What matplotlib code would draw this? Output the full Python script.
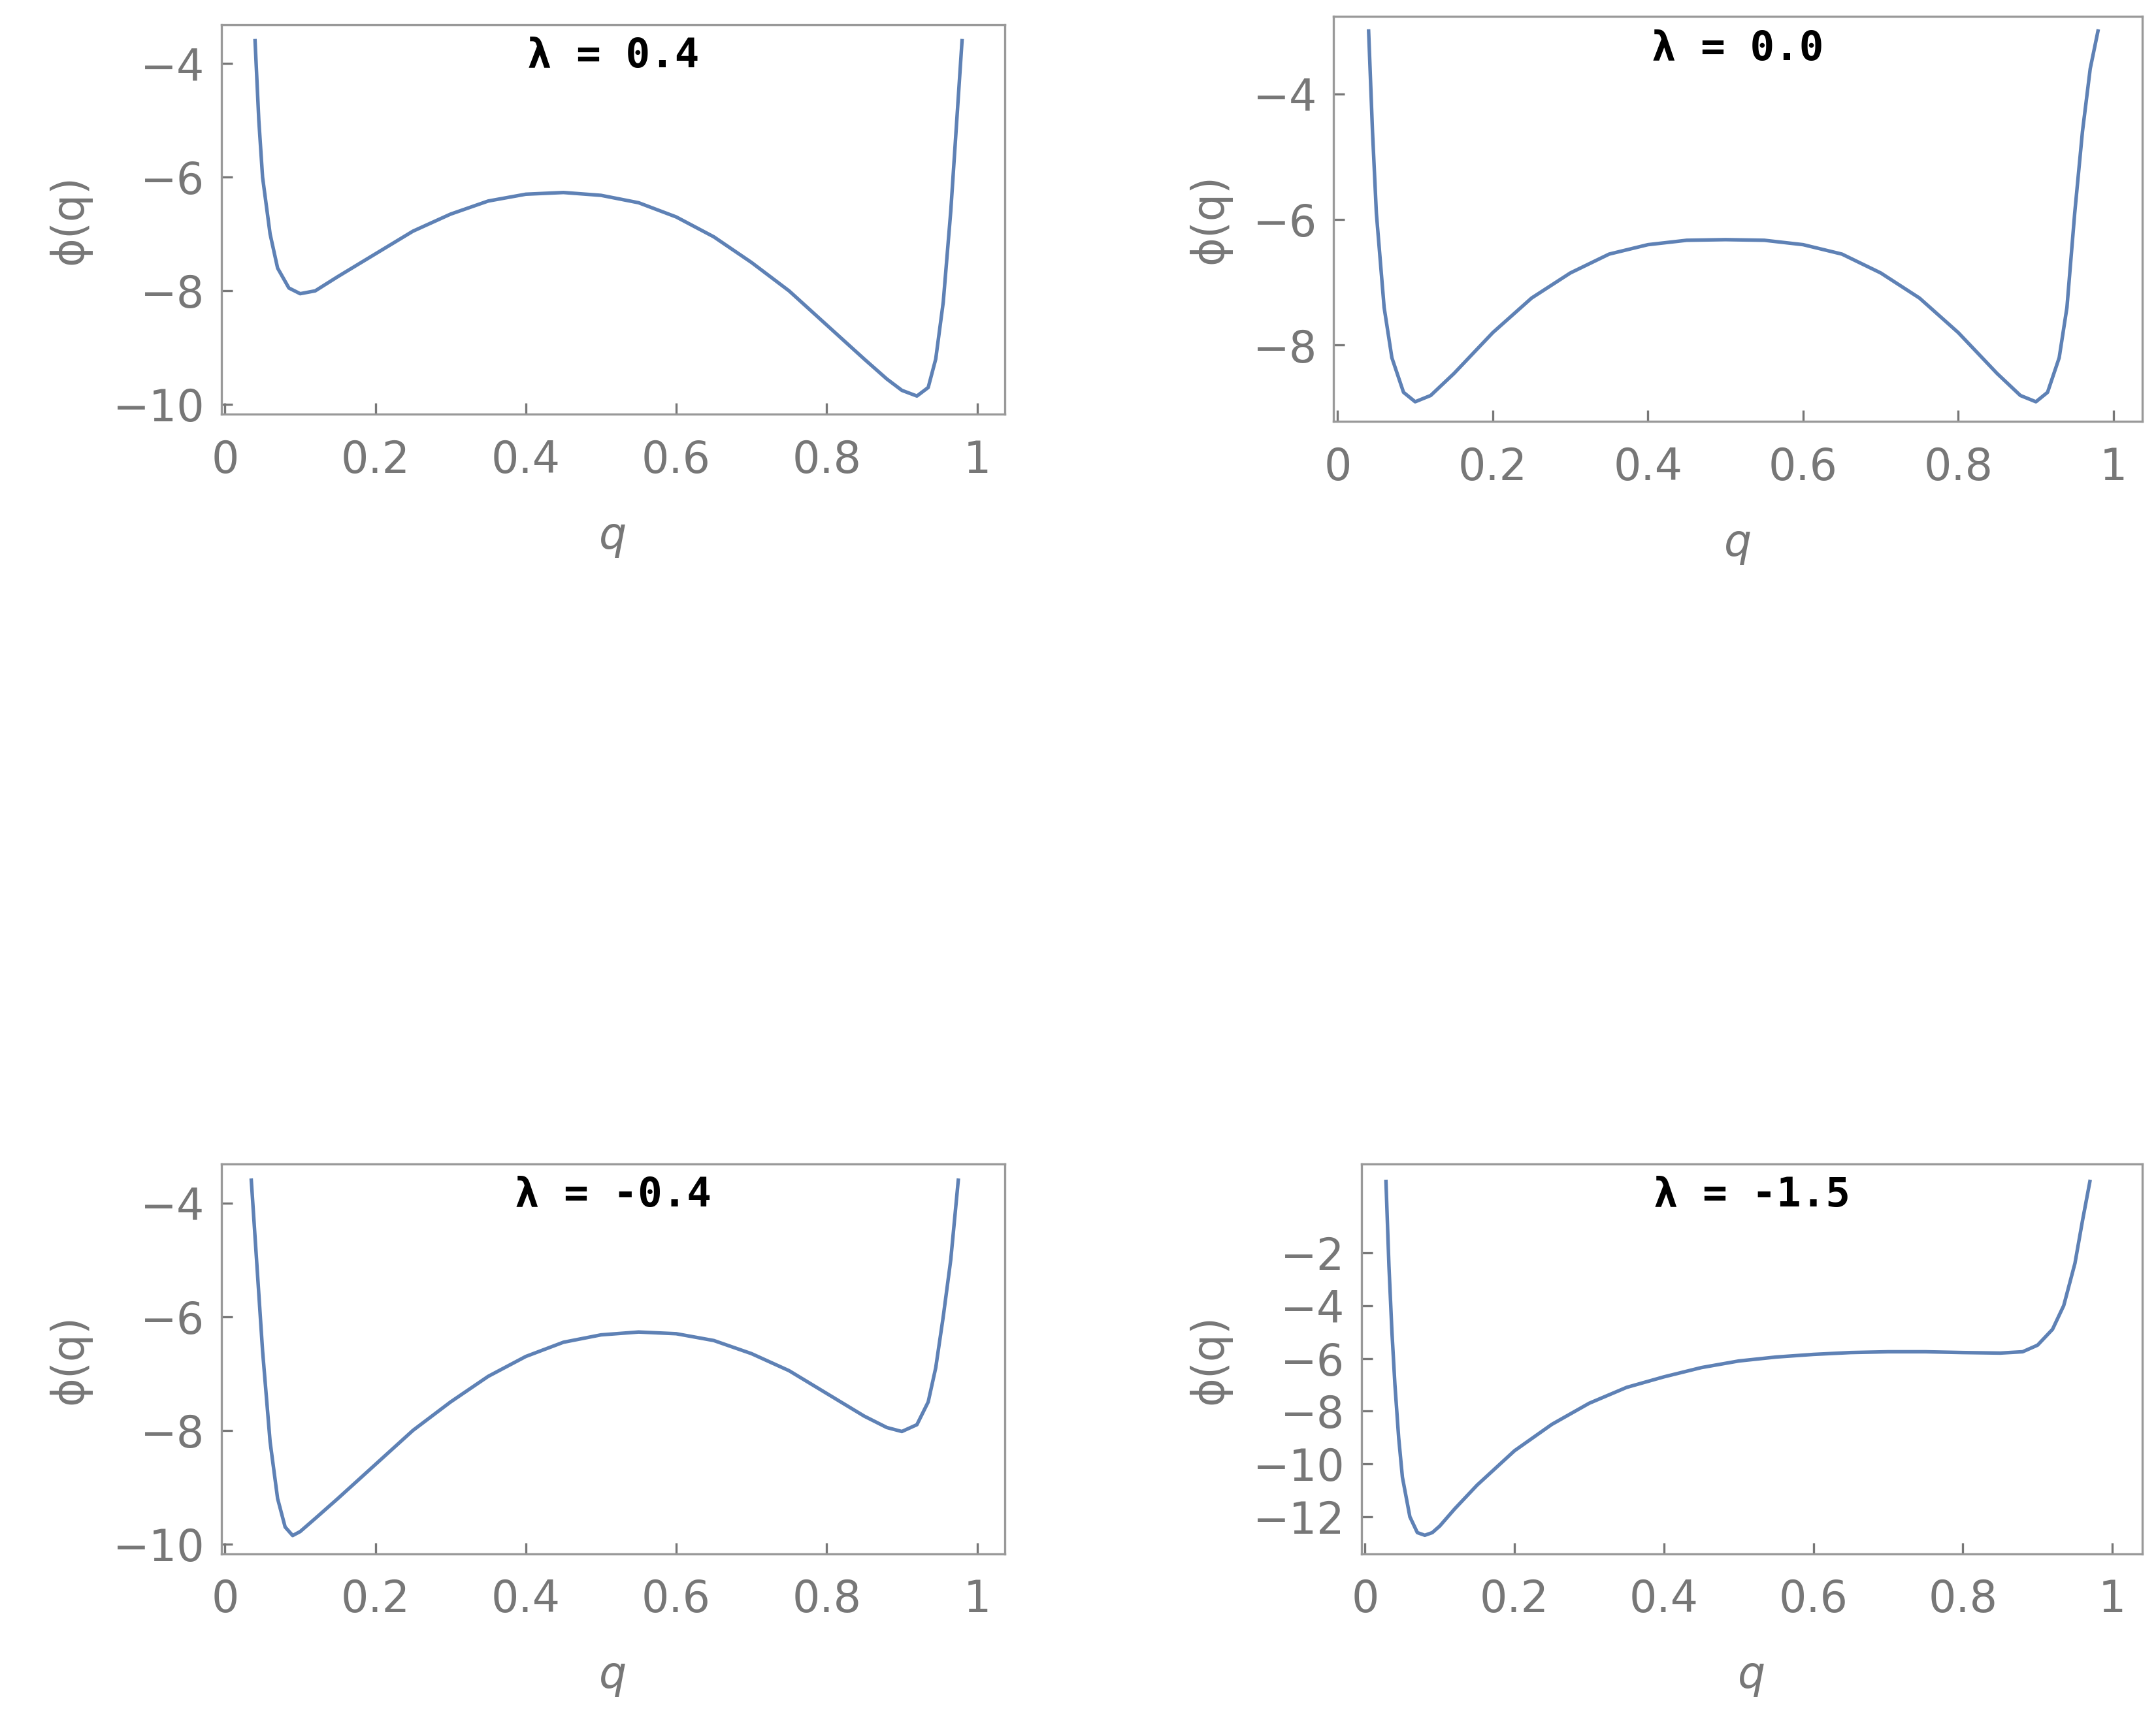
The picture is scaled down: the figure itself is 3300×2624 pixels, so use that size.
import matplotlib
matplotlib.use("Agg")
import matplotlib.pyplot as plt

# values
q_a = [0.040, 0.045, 0.050, 0.060, 0.070, 0.085, 0.100, 0.120, 0.150, 0.200, 0.250, 0.300,
       0.350, 0.400, 0.450, 0.500, 0.550, 0.600, 0.650, 0.700, 0.750, 0.800, 0.850, 0.880,
       0.900, 0.920, 0.935, 0.945, 0.955, 0.965, 0.975, 0.980]
phi_a = [-3.6, -5.0, -6.0, -7.0, -7.6, -7.95, -8.05, -8.0, -7.75, -7.35, -6.95, -6.65,
         -6.42, -6.3, -6.27, -6.32, -6.45, -6.7, -7.05, -7.5, -8.0, -8.6, -9.2, -9.55,
         -9.75, -9.85, -9.7, -9.2, -8.2, -6.6, -4.6, -3.6]

q_b = [0.040, 0.045, 0.050, 0.060, 0.070, 0.085, 0.100, 0.120, 0.150, 0.200, 0.250, 0.300,
       0.350, 0.400, 0.450, 0.500, 0.550, 0.600, 0.650, 0.700, 0.750, 0.800, 0.850, 0.880,
       0.900, 0.915, 0.930, 0.940, 0.950, 0.960, 0.970, 0.980]
phi_b = [-3.0, -4.6, -5.9, -7.4, -8.2, -8.75, -8.9, -8.8, -8.45, -7.8, -7.25, -6.85,
         -6.55, -6.4, -6.33, -6.32, -6.33, -6.4, -6.55, -6.85, -7.25, -7.8, -8.45, -8.8,
         -8.9, -8.75, -8.2, -7.4, -5.9, -4.6, -3.6, -3.0]

q_c = [0.035, 0.040, 0.050, 0.060, 0.070, 0.080, 0.090, 0.100, 0.120, 0.150, 0.200, 0.250,
       0.300, 0.350, 0.400, 0.450, 0.500, 0.550, 0.600, 0.650, 0.700, 0.750, 0.800, 0.850,
       0.880, 0.900, 0.920, 0.935, 0.945, 0.955, 0.965, 0.975]
phi_c = [-3.6, -4.6, -6.6, -8.2, -9.2, -9.7, -9.85, -9.78, -9.55, -9.2, -8.6, -8.0,
         -7.5, -7.05, -6.7, -6.45, -6.32, -6.27, -6.3, -6.42, -6.65, -6.95, -7.35, -7.75,
         -7.95, -8.02, -7.9, -7.5, -6.9, -6.0, -5.0, -3.6]

q_d = [0.028, 0.032, 0.036, 0.040, 0.045, 0.050, 0.060, 0.070, 0.080, 0.090, 0.100, 0.120,
       0.150, 0.200, 0.250, 0.300, 0.350, 0.400, 0.450, 0.500, 0.550, 0.600, 0.650, 0.700,
       0.750, 0.800, 0.850, 0.880, 0.900, 0.920, 0.935, 0.950, 0.960, 0.970]
phi_d = [0.7, -2.5, -5.0, -7.0, -9.0, -10.5, -12.0, -12.6, -12.7, -12.6, -12.35, -11.7,
         -10.8, -9.5, -8.5, -7.7, -7.1, -6.7, -6.35, -6.1, -5.95, -5.85, -5.78, -5.75,
         -5.75, -5.78, -5.8, -5.75, -5.5, -4.9, -4.0, -2.4, -0.8, 0.7]

panels = [
    ("λ = 0.4", q_a, phi_a, [-4, -6, -8, -10], (-3.32, -10.17), [0.1026, 0.7583, 0.3635, 0.2272], (-0.005, 1.037)),
    ("λ = 0.0", q_b, phi_b, [-4, -6, -8], (-2.77, -9.21), [0.6186, 0.7542, 0.3750, 0.2361], (-0.005, 1.037)),
    ("λ = -0.4", q_c, phi_c, [-4, -6, -8, -10], (-3.32, -10.17), [0.1026, 0.0935, 0.3635, 0.2272], (-0.005, 1.037)),
    ("λ = -1.5", q_d, phi_d, [-2, -4, -6, -8, -10, -12], (1.35, -13.4), [0.6314, 0.0935, 0.3622, 0.2272], (-0.005, 1.04)),
]

GRAY = "#777777"
LINE = "#5e81b5"

fig = plt.figure(figsize=(11, 8.747), dpi=300)

for title, q, phi, yticks, ylim, rect, xlim in panels:
    ax = fig.add_axes(rect)
    ax.plot(q, phi, color=LINE, lw=1.3, solid_joinstyle="round")
    ax.set_xlim(*xlim)
    ax.set_ylim(ylim[1], ylim[0])
    ax.set_xticks([0, 0.2, 0.4, 0.6, 0.8, 1])
    ax.set_xticklabels(["0", "0.2", "0.4", "0.6", "0.8", "1"])
    ax.set_yticks(yticks)
    ax.set_yticklabels([str(t).replace("-", "\u2212") for t in yticks])
    ax.tick_params(direction="in", colors=GRAY, labelsize=16, length=4, labelcolor=GRAY)
    ax.tick_params(axis="x", pad=9)
    ax.tick_params(axis="y", pad=6)
    for s in ax.spines.values():
        s.set_color("#999999")
    ax.set_xlabel("q", color=GRAY, fontsize=16, style="italic", labelpad=12)
    ax.set_ylabel("ϕ(q)", color=GRAY, fontsize=16, labelpad=8)
    ax.text(0.5, 0.92, title, transform=ax.transAxes, ha="center", va="center",
            fontsize=15, fontweight="bold", family="DejaVu Sans Mono")

fig.savefig("out.png", dpi=300)
